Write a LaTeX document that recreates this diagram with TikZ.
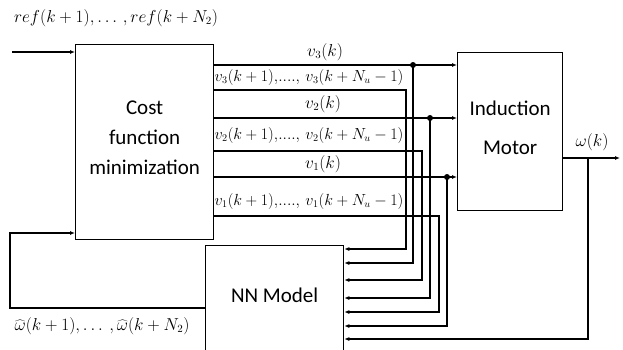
\documentclass[tikz,border=0pt]{standalone}
\usepackage{fontspec}
\setmainfont{Carlito}
\usetikzlibrary{arrows.meta}
\tikzset{
  blk/.style={draw, line width=1.3pt, anchor=north west, align=center, inner sep=0pt},
  arr/.style={-{Latex[length=5pt,width=4pt]}},
  lbl/.style={font=\fontsize{16}{18}\selectfont, inner sep=1pt},
  vlbl/.style={lbl, scale=0.93}
}
\begin{document}
\begin{tikzpicture}[x=1pt,y=-1pt,line width=1.1pt]
\path[use as bounding box, clip] (0,0) rectangle (623,349);
\node[blk, minimum width=138pt, minimum height=195pt, font=\fontsize{21}{30}\selectfont] (cost) at (75,44) {Cost\\function\\minimization\rule[-8pt]{0pt}{8pt}};
\node[blk, minimum width=105pt, minimum height=158pt, font=\fontsize{21}{39}\selectfont] (motor) at (457,52) {Induction\\Motor\rule[-8pt]{0pt}{8pt}};
\node[blk, minimum width=138pt, minimum height=110pt, font=\fontsize{21}{24}\selectfont] (nn) at (205,245) {\raisebox{10pt}{NN Model}};
% reference input
\coordinate (refin) at (12,52);
\draw[arr] (refin) -- (cost.west |- refin);
\node[lbl] at (116,18) {$ref(k+1),\ldots\,,ref(k+N_2)$};
% control moves sent to the motor and tapped for the model
\foreach \y/\x/\t in {65/413/263, 118/430/298, 177/447/326}{
  \draw[arr] (cost.east |- 0,\y) -- (motor.west |- 0,\y);
  \fill (\x,\y) circle (3pt);
  \draw[arr] (\x,\y) |- (nn.east |- 0,\t);
}
% future control moves, only to the model
\foreach \y/\x/\t in {90/406/249, 151/422/280, 216/439/312}
  \draw[arr] (cost.east |- 0,\y) -| (\x,\t) -- (nn.east |- 0,\t);
\node[lbl] at (325,52) {$v_3(k)$};
\node[vlbl] at (309,77) {$v_3(k+1),\!....,\,v_3(k+N_u-1)$};
\node[lbl] at (323,104) {$v_2(k)$};
\node[vlbl] at (309,135) {$v_2(k+1),\!....,\,v_2(k+N_u-1)$};
\node[lbl] at (323,164) {$v_1(k)$};
\node[vlbl] at (309,201) {$v_1(k+1),\!....,\,v_1(k+N_u-1)$};
% motor speed
\coordinate (wout) at (620,158);
\draw[arr] (motor.east |- wout) -- (wout);
\node[lbl] at (592,142) {$\omega(k)$};
\draw[arr] (588,158) |- (nn.east |- 0,339);
% predicted speed back to the optimiser
\coordinate (fb) at (10,233);
\draw[arr] (nn.west |- 0,308) -| (fb) -- (cost.west |- fb);
\node[lbl] at (102,326) {$\widehat{\omega}(k+1),\ldots\ ,\widehat{\omega}(k+N_2)$};
\end{tikzpicture}
\end{document}
